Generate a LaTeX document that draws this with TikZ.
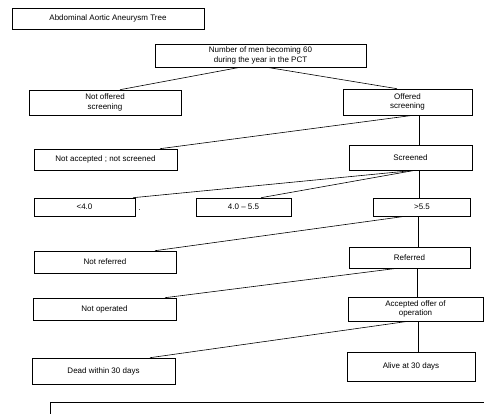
\documentclass[tikz,border=0pt]{standalone}
\usepackage{fontspec}
\setmainfont{Liberation Sans}
\begin{document}
\begin{tikzpicture}[x=1pt,y=-1pt,
  box/.style={draw=black,line width=.6pt,inner sep=0pt,align=center,
    font=\fontsize{8}{9.5}\selectfont},
  link/.style={draw=black,line width=.6pt}]
\useasboundingbox (0,0) rectangle (484,413);

\node[box,minimum width=192pt,minimum height=21pt] (title) at (108,18.5) {Abdominal Aortic Aneurysm Tree};
\node[box,minimum width=211pt,minimum height=23pt] (men) at (260.5,55.5) {Number of men becoming 60\\during the year in the PCT};
\node[box,minimum width=152pt,minimum height=25pt] (notoffered) at (105,102.5) {Not offered\\screening};
\node[box,minimum width=129pt,minimum height=26pt] (offered) at (407.5,102) {Offered\\screening};
\node[box,minimum width=143pt,minimum height=21pt] (notaccepted) at (105.5,159.5) {Not accepted ; not screened};
\node[box,minimum width=123pt,minimum height=25pt] (screened) at (410.5,157.5) {Screened};
\node[box,minimum width=101pt,minimum height=18pt] (small) at (84.5,207) {<4.0};
\node[inner sep=0pt,font=\fontsize{8}{9.5}\selectfont] (dot) at (139.5,210.5) {.};
\node[box,minimum width=95pt,minimum height=18pt] (medium) at (243.5,207) {4.0 -- 5.5};
\node[box,minimum width=97pt,minimum height=18pt] (large) at (422,207) {>5.5};
\node[box,minimum width=142pt,minimum height=22pt] (notreferred) at (105,262) {Not referred};
\node[box,minimum width=121pt,minimum height=21pt] (referred) at (409.5,257.5) {Referred};
\node[box,minimum width=143pt,minimum height=22pt] (notoperated) at (104.5,309) {Not operated};
\node[box,minimum width=135pt,minimum height=24pt] (accepted) at (415.5,309) {Accepted offer of\\operation};
\node[box,minimum width=143pt,minimum height=26pt] (dead) at (103.5,371) {Dead within 30 days};
\node[box,minimum width=128pt,minimum height=29pt] (alive) at (411,366.5) {Alive at 30 days};

\begin{scope}
\clip (0,0) rectangle (484,413);
\draw[link] (50,402) rectangle (490,420);
\end{scope}

\draw[link] ([xshift=-20.5pt]men.south) -- ([xshift=15pt]notoffered.north);
\draw[link] ([xshift=6.5pt]men.south) -- ([xshift=-10.5pt]offered.north);
\draw[link] ([xshift=5.5pt]offered.south) -- ([xshift=54.5pt]notaccepted.north);
\draw[link] ([xshift=11.5pt]offered.south) -- ([xshift=8.5pt]screened.north);
\draw[link] ([xshift=4.5pt]screened.south) -- ([xshift=48.5pt]small.north);
\draw[link] ([xshift=4.5pt]screened.south) -- ([xshift=17.5pt]medium.north);
\draw[link] ([xshift=8.5pt]screened.south) -- ([xshift=-3pt]large.north);
\draw[link] ([xshift=-17pt]large.south) -- ([xshift=50pt]notreferred.north);
\draw[link] ([xshift=-4pt]large.south) -- ([xshift=8.5pt]referred.north);
\draw[link] ([xshift=-12.5pt]referred.south) -- ([xshift=60.5pt]notoperated.north);
\draw[link] ([xshift=8pt]referred.south) -- ([xshift=2pt]accepted.north);
\draw[link] ([xshift=-7.5pt]accepted.south) -- ([xshift=46.5pt]dead.north);
\draw[link] ([xshift=2.5pt]accepted.south) -- ([xshift=7pt]alive.north);
\end{tikzpicture}
\end{document}
